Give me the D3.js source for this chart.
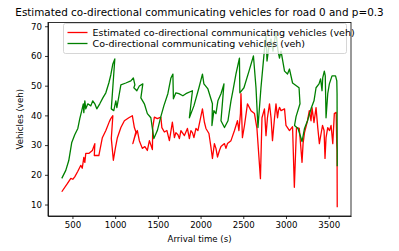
<!DOCTYPE html>
<html>
<head>
<script src="https://d3js.org/d3.v7.min.js"></script>
<style>
    body { margin: 0; background: #fff; }
    svg text { font-family: "DejaVu Sans", sans-serif; fill: #000; }
    .axis text { font-size: 8.6px; }
    .axis path, .axis line { stroke: #000; stroke-width: 0.8; }
</style>
</head>
<body>
<svg id="chart"></svg>
<script>
// estimated co-directional communicating vehicles (red)
var estTime = [375,440,481,504,527,563,598,615,633,645,656,691,733,762,756,809,850,891,932,949,
    973,955,979,1002,1026,1067,1108,1160,1201,1225,1243,1207,1231,1260,1283,1318,1348,1377,1401,1436,
    1440,1459,1494,1535,1547,1576,1606,1635,1670,1694,1711,1735,1752,1770,1811,1846,1869,1887,1905,1922,
    1946,1969,2022,2045,2063,2098,2121,2139,2162,2180,2198,2221,2239,2280,2297,2315,2356,2397,2432,2449,
    2467,2473,2490,2514,2549,2590,2631,2660,2701,2719,2748,2766,2783,2807,2825,2842,2866,2883,2901,2912,
    2924,2942,2983,3000,3041,3077,3098,3123,3156,3188,3200,3217,3252,3273,3293,3305,3328,3352,3372,3391,
    3411,3428,3446,3457,3469,3489,3510,3528,3548,3566,3588,3594,3598,3600];
var estVeh = [14.3,17.0,18.8,18.5,19.3,21.2,23.2,22.2,25.9,24.2,27.2,27.2,28.2,30.5,26.5,26.5,32.5,34.9,37.9,38.9,
    39.9,32.2,24.9,28.9,32.5,35.9,38.2,39.2,39.9,35.9,34.4,30.5,32.9,34.9,31.5,28.9,29.5,28.2,31.5,28.5,
    35.9,39.4,38.9,39.4,35.9,34.4,34.9,31.5,37.7,32.5,34.2,33.5,32.2,34.9,33.2,35.6,32.2,34.9,34.2,32.5,
    35.6,34.9,42.2,37.7,35.6,33.9,29.4,25.5,30.5,28.9,26.0,28.2,29.5,30.5,28.9,30.5,31.5,34.9,38.2,34.9,
    40.6,47.3,32.5,36.6,43.9,41.6,40.6,35.6,18.7,39.2,42.2,33.2,39.2,43.9,39.2,31.5,39.2,43.9,39.2,41.6,
    42.7,41.6,42.2,36.6,34.9,36.2,15.8,35.9,35.6,24.2,30.5,34.2,38.2,41.6,38.2,42.6,37.6,42.6,35.9,30.5,
    33.9,36.6,34.9,25.5,32.5,35.9,34.9,36.6,30.5,40.6,41.0,30.5,28.2,9.1];

// co-directional communicating vehicles (green)
var realTime = [375,422,457,492,527,563,586,609,627,633,645,656,680,715,738,762,785,820,856,891,
    926,949,973,996,955,984,1008,1020,1043,1067,1125,1184,1213,1231,1219,1254,1283,1324,1301,1342,
    1377,1418,1453,1494,1535,1570,1617,1653,1676,1682,1711,1746,1793,1828,1905,1869,1922,1981,2022,2039,
    2086,2139,2133,2156,2180,2203,2239,2274,2239,2280,2321,2356,2379,2414,2455,2460,2508,2567,2619,2649,
    2672,2707,2743,2766,2778,2801,2825,2848,2883,2907,2924,2942,2983,3018,3041,3077,3153,3164,3118,3100,
    3141,3188,3217,3252,3293,3328,3352,3387,3405,3422,3430,3449,3460,3469,3489,3508,3539,3580,3595,3598,
    3600];
var realVeh = [18.8,21.5,24.8,30.9,33.5,35.6,38.9,41.6,43.9,40.9,44.9,42.2,43.9,43.2,44.9,43.9,42.2,43.9,45.9,47.6,
    50.9,53.6,57.3,59.0,42.2,41.6,44.9,42.6,46.3,50.3,50.9,51.6,52.6,50.3,49.3,48.3,49.9,50.6,45.9,43.9,
    40.6,39.2,32.2,34.9,39.6,43.2,47.3,52.6,53.9,45.6,47.6,47.3,46.6,47.3,48.3,39.2,43.2,49.3,53.9,50.6,
    48.9,43.9,36.6,41.6,40.6,44.9,47.3,50.6,38.2,35.9,38.2,44.9,48.3,53.9,59.3,47.6,49.3,54.9,60.0,49.3,
    35.9,49.3,60.6,67.3,58.3,63.3,65.7,61.6,68.3,61.6,59.3,61.6,54.9,53.9,55.6,50.9,49.3,43.9,39.6,36.6,
    35.6,31.2,35.6,38.2,42.2,44.9,49.3,50.6,52.3,48.3,52.6,54.9,53.3,39.2,47.3,50.6,53.3,53.3,51.6,47.3,
    22.9];

var xTicks = [500, 1000, 1500, 2000, 2500, 3000, 3500];
var yTicks = [10, 20, 30, 40, 50, 60, 70];

var seriesNames = ["Estimated co-directional communicating vehicles (veh)", "Co-directional communicating vehicles (veh)"];
var seriesColors = ["#ff0000", "#008000"];

var margin = {top: 22.5, right: 48, bottom: 35, left: 48},
    W = 399, H = 251,
    width = W - margin.left - margin.right,
    height = H - margin.top - margin.bottom;

var svg = d3.select("#chart").attr("width", W).attr("height", H);

var allT = estTime.concat(realTime), allV = estVeh.concat(realVeh);
var tExt = d3.extent(allT), vExt = d3.extent(allV);
var tPad = (tExt[1] - tExt[0]) * 0.05, vPad = (vExt[1] - vExt[0]) * 0.05;

var x = d3.scaleLinear().domain([tExt[0] - tPad, tExt[1] + tPad]).range([0, width]);
var y = d3.scaleLinear().domain([vExt[0] - vPad, vExt[1] + vPad]).range([height, 0]);

var g = svg.append("g").attr("transform", "translate(" + margin.left + "," + margin.top + ")");

var series = [
    {t: estTime, v: estVeh},
    {t: realTime, v: realVeh}
];

var line = d3.line()
    .x(function(d) { return x(d[0]); })
    .y(function(d) { return y(d[1]); });

series.forEach(function(s, i) {
    g.append("path")
        .datum(d3.zip(s.t, s.v))
        .attr("fill", "none")
        .attr("stroke", seriesColors[i])
        .attr("stroke-width", 1.3)
        .attr("stroke-linejoin", "round")
        .attr("d", line);
});

// axes
g.append("g")
    .attr("class", "axis")
    .attr("transform", "translate(0," + height + ")")
    .call(d3.axisBottom(x).tickValues(xTicks).tickFormat(d3.format("d"))
        .tickSize(3).tickPadding(3).tickSizeOuter(0));

g.append("g")
    .attr("class", "axis")
    .call(d3.axisLeft(y).tickValues(yTicks).tickFormat(d3.format("d"))
        .tickSize(3).tickPadding(3).tickSizeOuter(0));

// frame
g.append("rect")
    .attr("width", width).attr("height", height)
    .attr("fill", "none").attr("stroke", "#000").attr("stroke-width", 0.8);

// labels
svg.append("text")
    .attr("x", margin.left + width / 2).attr("y", 15.5)
    .attr("text-anchor", "middle").attr("font-size", "10.4px")
    .text("Estimated co-directional communicating vehicles for road 0 and p=0.3");

svg.append("text")
    .attr("x", margin.left + width / 2).attr("y", 242)
    .attr("text-anchor", "middle").attr("font-size", "8.6px")
    .text("Arrival time (s)");

svg.append("text")
    .attr("transform", "translate(23," + (margin.top + height / 2) + ") rotate(-90)")
    .attr("text-anchor", "middle").attr("font-size", "8.6px")
    .text("Vehicles (veh)");

// legend
var legend = g.append("g").attr("transform", "translate(15.5,1)");
legend.append("rect")
    .attr("width", 283).attr("height", 30).attr("rx", 2)
    .attr("fill", "#fff").attr("fill-opacity", 0.8)
    .attr("stroke", "#cccccc").attr("stroke-width", 0.8);

seriesNames.forEach(function(name, i) {
    var yy = 9 + i * 11;
    legend.append("line")
        .attr("x1", 4).attr("x2", 24).attr("y1", yy).attr("y2", yy)
        .attr("stroke", seriesColors[i]).attr("stroke-width", 1.3);
    legend.append("text")
        .attr("x", 29).attr("y", yy + 3.3)
        .attr("font-size", "9.5px")
        .text(name);
});
</script>
</body>
</html>
